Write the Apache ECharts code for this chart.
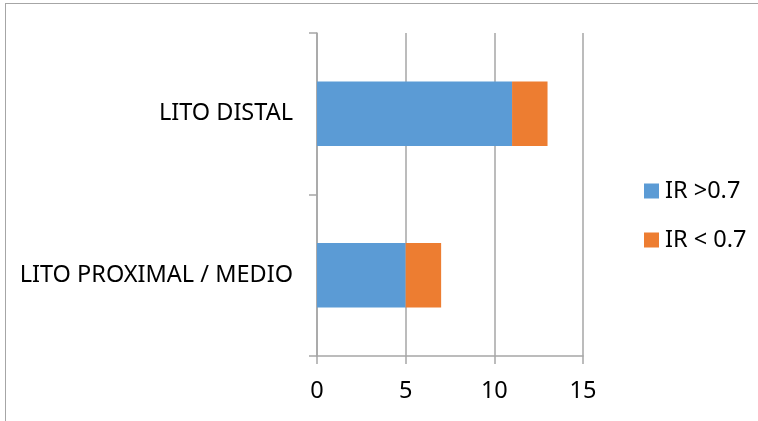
<!DOCTYPE html>
<html>
<head>
<meta charset="utf-8">
<script src="https://cdn.jsdelivr.net/npm/echarts@6/dist/echarts.min.js"></script>
<style>
html,body{margin:0;padding:0;background:#fff;}
#frame{position:absolute;left:5px;top:3px;width:760px;height:430px;border-top:1.5px solid #a6a6a6;border-left:1.5px solid #a6a6a6;box-sizing:border-box;}
#chart{position:absolute;left:0;top:0;width:758px;height:421px;}
</style>
</head>
<body>
<div id="frame"></div>
<div id="chart"></div>
<script>
const categories = ['LITO PROXIMAL / MEDIO', 'LITO DISTAL'];
const seriesNames = ['IR >0.7', 'IR < 0.7'];
const highValues = [5, 11];
const lowValues = [2, 2];
const xTicks = [0, 5, 10, 15];

const chart = echarts.init(document.getElementById('chart'), null, {renderer: 'canvas'});
const font = 'Noto Sans';
const fs = 23.5;
chart.setOption({
  animation: false,
  grid: {left: 317, right: 175, top: 33, bottom: 65, containLabel: false},
  legend: {
    orient: 'vertical',
    left: 639,
    top: 174,
    itemWidth: 15,
    itemHeight: 15,
    itemGap: 25,
    icon: 'rect',
    textStyle: {fontFamily: font, fontSize: fs, color: '#000', padding: [0, 0, 0, 1]},
    data: seriesNames
  },
  xAxis: {
    type: 'value',
    min: xTicks[0],
    max: xTicks[xTicks.length - 1],
    interval: 5,
    axisLine: {show: true, lineStyle: {color: '#a6a6a6', width: 1.5}},
    axisTick: {show: true, length: 8, lineStyle: {color: '#a6a6a6', width: 1.5}},
    splitLine: {show: true, lineStyle: {color: '#a6a6a6', width: 1.5}},
    axisLabel: {fontFamily: font, fontSize: fs, color: '#000', margin: 23}
  },
  yAxis: {
    type: 'category',
    data: categories,
    axisLine: {show: true, lineStyle: {color: '#a6a6a6', width: 1.5}},
    axisTick: {show: true, length: 8, alignWithLabel: false, lineStyle: {color: '#a6a6a6', width: 1.5}},
    axisLabel: {fontFamily: font, fontSize: fs, color: '#000', margin: 24}
  },
  series: [
    {name: seriesNames[0], type: 'bar', stack: 'total', data: highValues, barCategoryGap: '60%', itemStyle: {color: '#5b9bd5'}},
    {name: seriesNames[1], type: 'bar', stack: 'total', data: lowValues, barCategoryGap: '60%', itemStyle: {color: '#ed7d31'}}
  ]
});
</script>
</body>
</html>
